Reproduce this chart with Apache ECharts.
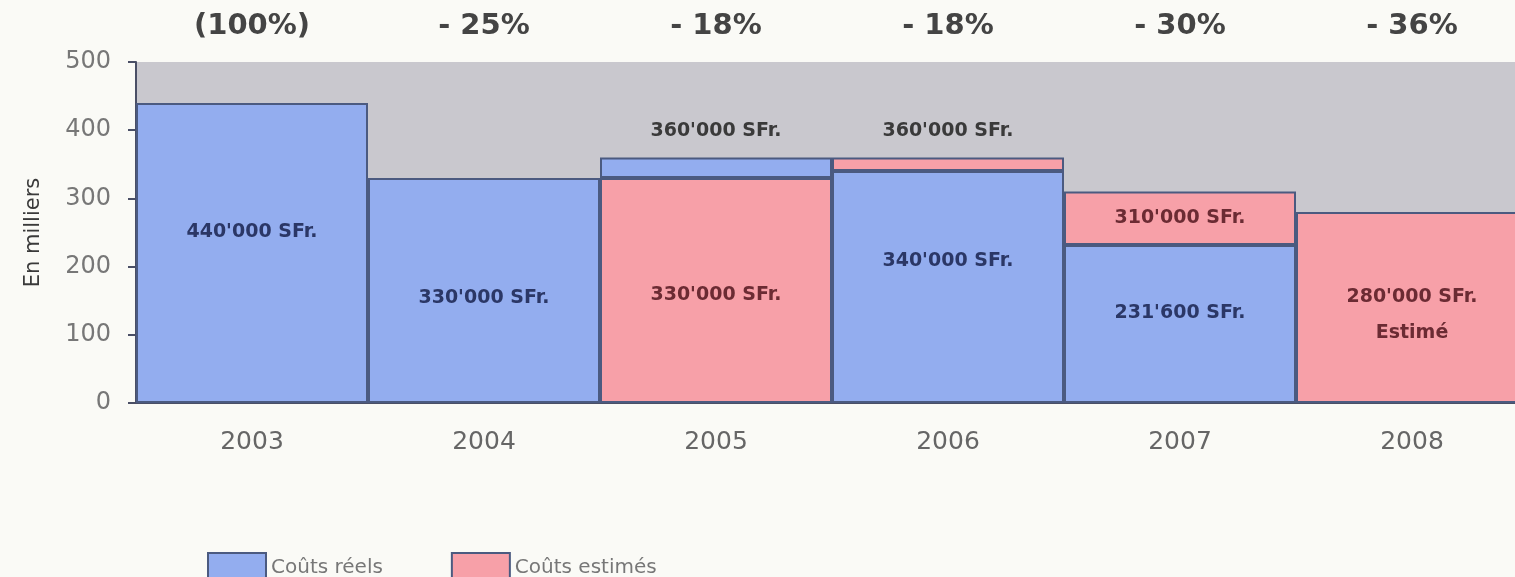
<!DOCTYPE html>
<html lang="fr" style="width: 100%;height:100%">
    <head>
        <meta charset="UTF-8">
        <title>Coûts</title>
        <script src="https://cdn.jsdelivr.net/npm/echarts@6.0.0/dist/echarts.min.js"></script>
    </head>
    <body style="width: 100%;height:100%;margin:0;background:#fafaf6;overflow:hidden">
        <!-- le graphique deborde un peu a droite, comme l'original -->
        <div id="chart" style="width: 1528px;height:577px"></div>
        <script>
            // valeurs en milliers de SFr.
            var annees = ['2003', '2004', '2005', '2006', '2007', '2008'];
            var coutsReels = [440, 330, 360, 340, 231.6, null];
            var coutsEstimes = [null, null, 330, 360, 310, 280];
            var variations = ['(100%)', '- 25%', '- 18%', '- 18%', '- 30%', '- 36%'];
            var yTicks = [0, 100, 200, 300, 400, 500];

            var BLUE = '#93adef', PINK = '#f7a0a8', EDGE = '#4b5a80';
            var FONT = 'DejaVu Sans';
            // decalage vertical des etiquettes (px)
            var shift = {'0': -21, '1': 8, '2': 5, '3': -26, '4': -11, '5': 8};

            function fmt(v) {
                var n = Math.round(v * 1000);
                var s = String(n);
                return s.slice(0, s.length - 3) + "'" + s.slice(-3) + ' SFr.';
            }

            var realLow = [], estLow = [], estHigh = [], realHigh = [];
            annees.forEach(function (a, i) {
                var r = coutsReels[i], e = coutsEstimes[i];
                realLow.push(null); estLow.push(null); estHigh.push(null); realHigh.push(null);
                var lowIsReal = (e == null) || (r != null && r <= e);
                var low = lowIsReal ? r : e;
                var high = lowIsReal ? e : r;
                var lowText = fmt(low) + (i === annees.length - 1 ? '\nEstimé' : '');
                var lowItem = {
                    value: low,
                    label: {show: true, position: 'inside', offset: [0, shift[i]], formatter: lowText,
                        color: lowIsReal ? '#2b3766' : '#6b2b33'}
                };
                if (lowIsReal) realLow[i] = lowItem; else estLow[i] = lowItem;
                if (high != null) {
                    var thin = high - low < 50;
                    var highItem = {
                        value: high - low,
                        label: thin
                            ? {show: true, position: 'top', distance: 8, formatter: fmt(high), color: '#3a3a3a'}
                            : {show: true, position: 'inside', offset: [0, 0], formatter: fmt(high),
                                color: lowIsReal ? '#6b2b33' : '#2b3766'}
                    };
                    if (lowIsReal) estHigh[i] = highItem; else realHigh[i] = highItem;
                }
            });

            function bar(name, data, color) {
                return {
                    name: name,
                    type: 'bar',
                    stack: 'c',
                    data: data,
                    barWidth: '100%',
                    barCategoryGap: 0,
                    itemStyle: {color: color, borderColor: EDGE, borderWidth: 2},
                    label: {fontSize: 19, fontWeight: 'bold', fontFamily: FONT, lineHeight: 36},
                    emphasis: {disabled: true}
                };
            }

            var chart = echarts.init(document.getElementById('chart'));
            chart.setOption({
                backgroundColor: '#fafaf6',
                animation: false,
                textStyle: {fontFamily: FONT},
                grid: {left: 136, right: 0, top: 62, bottom: 174, show: true,
                    backgroundColor: '#c9c8ce', borderWidth: 0},
                legend: {
                    left: 202, top: 547, itemWidth: 58, itemHeight: 30, itemGap: 68,
                    icon: 'rect',
                    data: ['Coûts réels', 'Coûts estimés'],
                    textStyle: {fontSize: 20, color: '#777', padding: [0, 0, 0, 0]},
                    selectedMode: false
                },
                xAxis: [{
                    type: 'category',
                    data: annees,
                    axisLine: {lineStyle: {color: '#4a4f66', width: 2}},
                    axisTick: {length: 8, lineStyle: {color: '#4a4f66', width: 2}},
                    axisLabel: {fontSize: 25, color: '#666', margin: 27}
                }, {
                    type: 'category',
                    position: 'top',
                    data: variations,
                    axisLine: {show: false},
                    axisTick: {show: false},
                    axisLabel: {fontSize: 29, fontWeight: 'bold', color: '#444', margin: 21}
                }],
                yAxis: {
                    type: 'value',
                    min: yTicks[0],
                    max: yTicks[yTicks.length - 1],
                    interval: 100,
                    name: 'En milliers',
                    nameLocation: 'middle',
                    nameRotate: 90,
                    nameGap: 92,
                    nameTextStyle: {fontSize: 21, color: '#3a3a3a'},
                    axisLine: {show: true, lineStyle: {color: '#4a4f66', width: 2}},
                    axisTick: {show: true, length: 8, lineStyle: {color: '#4a4f66', width: 2}},
                    axisLabel: {fontSize: 24, color: '#777', margin: 25},
                    splitLine: {show: false}
                },
                series: [
                    bar('Coûts réels', realLow, BLUE),
                    bar('Coûts estimés', estLow, PINK),
                    bar('Coûts estimés', estHigh, PINK),
                    bar('Coûts réels', realHigh, BLUE)
                ]
            });
        </script>
    </body>
</html>
